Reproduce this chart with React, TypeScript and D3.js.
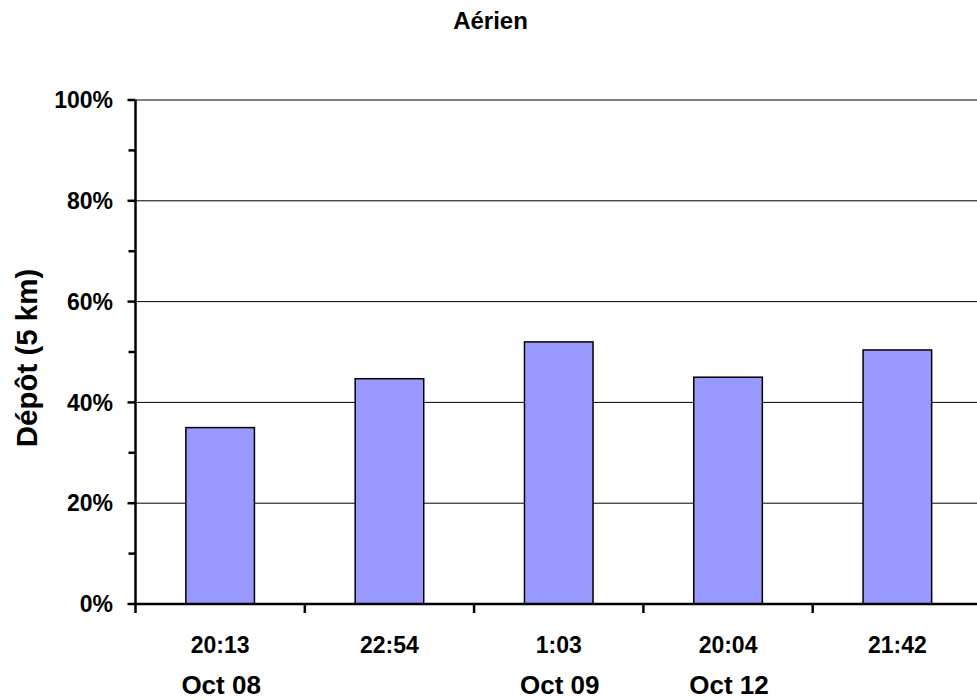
import React from "react";
import * as d3 from "d3";

const times = ["20:13", "22:54", "1:03", "20:04", "21:42"];
const dates = ["Oct 08", "", "Oct 09", "Oct 12", ""];
const values = [0.35, 0.447, 0.52, 0.45, 0.504];
const majorTicks = [0, 0.2, 0.4, 0.6, 0.8, 1.0];
const minorTicks = [0.1, 0.3, 0.5, 0.7, 0.9];
const title = "Aérien";
const yTitle = "Dépôt (5 km)";

const W = 977;
const H = 700;
const FONT = "'Liberation Sans', Arial, sans-serif";

export default function App() {
  const x = d3.scaleBand<string>().domain(times).range([135.5, 982]).padding(0);
  const y = d3.scaleLinear().domain([0, 1]).range([604, 100]);
  const barW = x.bandwidth() * 0.405;
  const fmt = d3.format(".0%");
  const x0 = 135.5;

  return (
    <svg width={W} height={H} style={{ position: "absolute", left: 0, top: 0, background: "#fff" }}>
      <text x={490.5} y={29} textAnchor="middle" fontFamily={FONT} fontWeight="bold" fontSize={24}>
        {title}
      </text>
      {majorTicks.filter((t) => t > 0).map((t) => (
        <line key={"g" + t} x1={x0} x2={W} y1={y(t)} y2={y(t)} stroke="#000" strokeWidth={1} />
      ))}
      {values.map((v, i) => {
        const cx = (x(times[i]) as number) + x.bandwidth() / 2;
        return (
          <rect
            key={"b" + i}
            x={cx - barW / 2}
            y={y(v)}
            width={barW}
            height={y(0) - y(v)}
            fill="#9999FF"
            stroke="#000"
            strokeWidth={1.5}
          />
        );
      })}
      {/* y axis */}
      <line x1={x0} x2={x0} y1={y(1)} y2={y(0)} stroke="#000" strokeWidth={2.5} />
      {majorTicks.map((t) => (
        <g key={"mt" + t}>
          <line x1={x0 - 8} x2={x0} y1={y(t)} y2={y(t)} stroke="#000" strokeWidth={2.5} />
          <text
            x={113}
            y={y(t)}
            dy="0.36em"
            textAnchor="end"
            fontFamily={FONT}
            fontWeight="bold"
            fontSize={23}
          >
            {fmt(t)}
          </text>
        </g>
      ))}
      {minorTicks.map((t) => (
        <line key={"mn" + t} x1={x0 - 7} x2={x0} y1={y(t)} y2={y(t)} stroke="#000" strokeWidth={2.5} />
      ))}
      {/* x axis */}
      <line x1={x0} x2={W} y1={y(0)} y2={y(0)} stroke="#000" strokeWidth={2.5} />
      {times.map((t) => (
        <line
          key={"xt" + t}
          x1={x(t) as number}
          x2={x(t) as number}
          y1={y(0)}
          y2={y(0) + 9}
          stroke="#000"
          strokeWidth={2.5}
        />
      ))}
      {times.map((t, i) => {
        const cx = (x(t) as number) + x.bandwidth() / 2;
        return (
          <g key={"lab" + i}>
            <text x={cx} y={653} textAnchor="middle" fontFamily={FONT} fontWeight="bold" fontSize={23}>
              {t}
            </text>
            {dates[i] ? (
              <text x={cx + 1} y={694} textAnchor="middle" fontFamily={FONT} fontWeight="bold" fontSize={26}>
                {dates[i]}
              </text>
            ) : null}
          </g>
        );
      })}
      <text
        transform={`translate(37, 358) rotate(-90)`}
        textAnchor="middle"
        fontFamily={FONT}
        fontWeight="bold"
        fontSize={29.5}
      >
        {yTitle}
      </text>
    </svg>
  );
}
